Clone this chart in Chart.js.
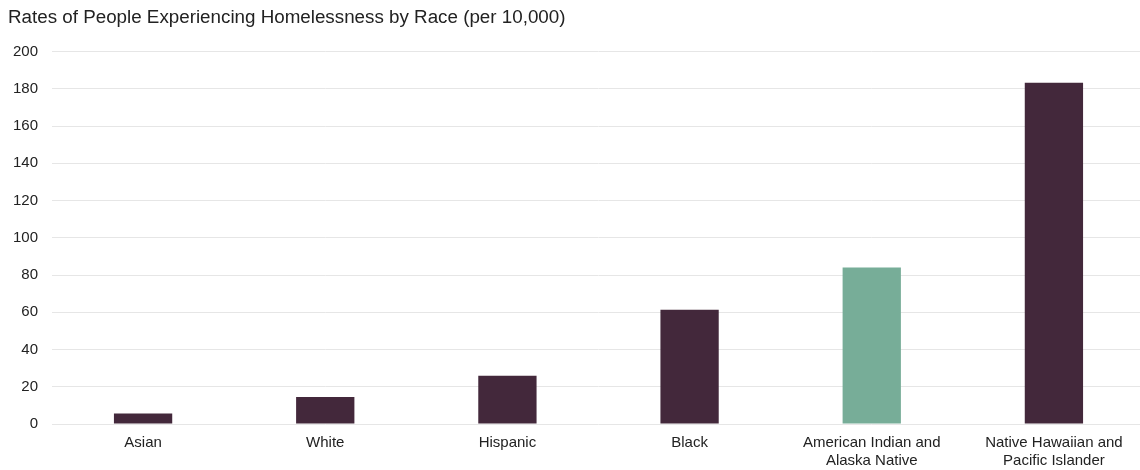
<!DOCTYPE html>
<html>
<head>
<meta charset="utf-8">
<title>Homelessness by Race</title>
<script src="https://cdn.jsdelivr.net/npm/chart.js@4/dist/chart.umd.min.js"></script>
<style>
  html, body { margin: 0; padding: 0; background: #fff; overflow: hidden; }
  /* a few px wider than the window so the last column runs off the edge */
  #wrap { width: 1145px; height: 470px; position: relative; }
</style>
</head>
<body>
<div id="wrap"><canvas id="raceChart"></canvas></div>
<script>
const races = [
  'Asian',
  'White',
  'Hispanic',
  'Black',
  ['American Indian and', 'Alaska Native'],
  ['Native Hawaiian and', 'Pacific Islander']
];
const ratesPer10k = [5.7, 14.5, 25.9, 61.3, 84.0, 183.2];
const yTicks = [0, 20, 40, 60, 80, 100, 120, 140, 160, 180, 200];

// one group is picked out in green, the rest are plum
const highlight = 4;
const FONT = "'Liberation Sans', Arial, sans-serif";

const ctx = document.getElementById('raceChart').getContext('2d');

new Chart(ctx, {
  type: 'bar',
  data: {
    labels: races,
    datasets: [{
      label: 'Rate per 10,000',
      data: ratesPer10k,
      backgroundColor: races.map((_, i) => i === highlight ? '#77ad98' : '#43283b'),
      barPercentage: 0.32,
      categoryPercentage: 1.0
    }]
  },
  options: {
    responsive: true,
    maintainAspectRatio: false,
    animation: false,
    layout: { padding: { left: 8, right: 0, top: 0, bottom: -10 } },
    plugins: {
      legend: { display: false },
      tooltip: { enabled: false },
      title: {
        display: true,
        text: 'Rates of People Experiencing Homelessness by Race (per 10,000)',
        align: 'start',
        color: '#222',
        font: { family: FONT, size: 18.8, weight: 'normal' },
        padding: { top: 7, bottom: 22 }
      }
    },
    scales: {
      x: {
        grid: { display: false, drawTicks: false },
        border: { display: false },
        ticks: {
          color: '#222',
          font: { family: FONT, size: 15 },
          padding: 10,
          maxRotation: 0,
          autoSkip: false
        }
      },
      y: {
        min: 0,
        max: 200,
        afterBuildTicks: axis => { axis.ticks = yTicks.map(v => ({ value: v })); },
        afterFit: axis => { axis.width = 44; },
        grid: { color: '#e6e6e6', drawTicks: false },
        border: { display: false },
        ticks: {
          color: '#222',
          font: { family: FONT, size: 15 },
          padding: 14
        }
      }
    }
  }
});
</script>
</body>
</html>
